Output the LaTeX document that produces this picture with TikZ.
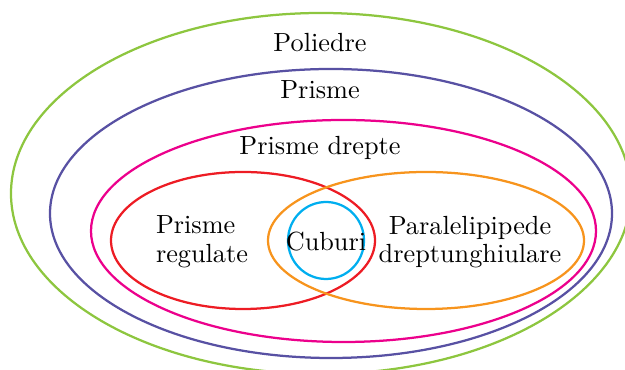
\documentclass[tikz,border=0pt]{standalone}
\usepackage{xcolor}
\usepackage{tikz}
\usetikzlibrary{shapes.geometric}

\definecolor{cgreen}{RGB}{141,198,63}
\definecolor{cblue}{RGB}{88,81,163}
\definecolor{cmagenta}{RGB}{236,0,140}
\definecolor{cred}{RGB}{237,28,36}
\definecolor{corange}{RGB}{247,148,29}
\definecolor{ccyan}{RGB}{0,174,239}

\begin{document}
\begin{tikzpicture}[
    x=0.4pt, y=-0.4pt,
    font=\fontsize{10.5}{11.5}\selectfont,
    set/.style={ellipse, draw=#1, line width=0.9pt, inner sep=0pt},
    lbl/.style={inner sep=1pt, align=center}
  ]

  \clip (0,0) rectangle (625,370);

  % the sets
  \node[set=cgreen,   minimum width=248pt,   minimum height=144.4pt] (poliedre) at (321,193.5) {};
  \node[set=cblue,    minimum width=224.8pt, minimum height=115.6pt] (prisme)   at (331,213.5) {};
  \node[set=cmagenta, minimum width=202pt,   minimum height=88.8pt]  (drepte)   at (343.5,231) {};
  \node[set=cred,     minimum width=105.6pt, minimum height=54.8pt]  (regulate) at (243,240.5) {};
  \node[set=corange,  minimum width=126.4pt, minimum height=54.8pt]  (paral)    at (426,240.5) {};
  \node[set=ccyan,    minimum width=30.4pt,  minimum height=30.8pt]  (cuburi)   at (326,240.5) {};

  % names
  \node[lbl] (tpoliedre) at (320,43)  {Poliedre};
  \node[lbl] (tprisme)   at (320,90)  {Prisme};
  \node[lbl] (tdrepte)   at (320,148) {Prisme drepte};
  \node[lbl, align=left] (tregulate) at (202,242) {Prisme\\regulate};
  \node[lbl] (tcuburi)   at (326,242) {Cuburi};
  \node[lbl] (tparal)    at (470,242) {Paralelipipede\\dreptunghiulare};

\end{tikzpicture}
\end{document}
